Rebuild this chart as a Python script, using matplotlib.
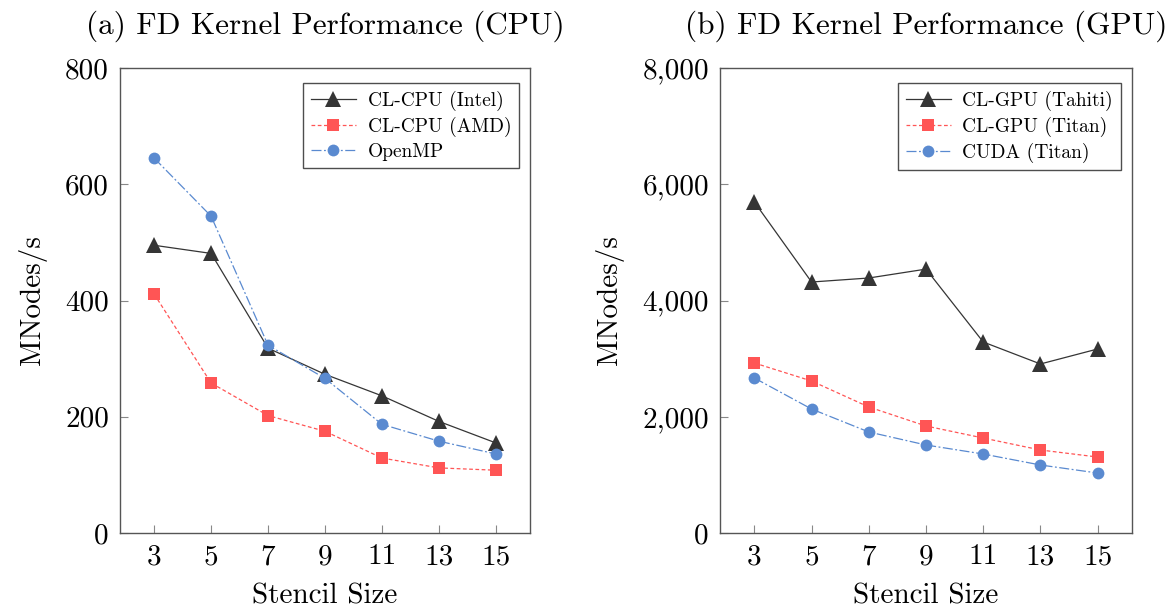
import matplotlib
matplotlib.use("Agg")
import matplotlib.pyplot as plt
from matplotlib.ticker import FuncFormatter

plt.rcParams["font.family"] = "cmr10"
plt.rcParams["mathtext.fontset"] = "cm"
plt.rcParams["axes.unicode_minus"] = False

stencil = [3, 5, 7, 9, 11, 13, 15]

# CPU panel (MNodes/s)
cpu_intel = [495, 481, 318, 273, 236, 192, 155]
cpu_amd = [411, 258, 202, 175, 129, 112, 108]
cpu_openmp = [645, 545, 323, 266, 187, 158, 136]

# GPU panel (MNodes/s)
gpu_tahiti = [5695, 4318, 4387, 4540, 3286, 2908, 3166]
gpu_cl_titan = [2925, 2615, 2168, 1841, 1634, 1428, 1307]
gpu_cuda_titan = [2667, 2133, 1738, 1514, 1359, 1170, 1032]

cpu_labels = ["CL-CPU (Intel)", "CL-CPU (AMD)", "OpenMP"]
gpu_labels = ["CL-GPU (Tahiti)", "CL-GPU (Titan)", "CUDA (Titan)"]

DARK = "#353535"
RED = "#ff5555"
BLUE = "#5a8ad0"
AXCOL = "#555555"


def style_axes(ax, ymax, ystep, title):
    ax.set_xlim(1.8, 16.2)
    ax.set_ylim(0, ymax)
    ax.set_xticks(stencil)
    ax.set_yticks(range(0, ymax + 1, ystep))
    ax.yaxis.set_major_formatter(FuncFormatter(lambda v, p: f"{int(v):,}"))
    ax.tick_params(direction="in", length=6, width=0.8, color="#888888",
                   labelsize=21, pad=8, top=False, right=False)
    for sp in ax.spines.values():
        sp.set_color(AXCOL)
        sp.set_linewidth(1.0)
    ax.set_xlabel("Stencil Size", fontsize=21, labelpad=9)
    ax.set_ylabel("MNodes/s", fontsize=21, labelpad=13)
    ax.set_title(title, fontsize=22.5, pad=25)


def draw(ax, series, labels):
    styles = [
        dict(color=DARK, ls="-", marker="^", ms=11),
        dict(color=RED, ls=(0, (3, 2)), marker="s", ms=8.5),
        dict(color=BLUE, ls=(0, (8, 2, 1.5, 2)), marker="o", ms=8.5),
    ]
    for ys, lab, st in zip(series, labels, styles):
        ax.plot(stencil, ys, color=st["color"], linestyle=st["ls"], linewidth=0.9,
                marker=st["marker"], markersize=st["ms"], markeredgewidth=0,
                label=lab)
    leg = ax.legend(loc="upper right", fontsize=14, frameon=True, fancybox=False,
                    edgecolor="#222222", handlelength=2.3, borderpad=0.4,
                    labelspacing=0.3, handletextpad=0.6, borderaxespad=0,
                    bbox_to_anchor=(0.973, 0.968))
    leg.get_frame().set_linewidth(1.0)


fig = plt.figure(figsize=(11.71, 6.11), dpi=100)
ax1 = fig.add_axes([120 / 1171, 1 - 533 / 611, 410 / 1171, 465 / 611])
ax2 = fig.add_axes([720 / 1171, 1 - 533 / 611, 412 / 1171, 465 / 611])

draw(ax1, [cpu_intel, cpu_amd, cpu_openmp], cpu_labels)
style_axes(ax1, 800, 200, "(a) FD Kernel Performance (CPU)")

draw(ax2, [gpu_tahiti, gpu_cl_titan, gpu_cuda_titan], gpu_labels)
style_axes(ax2, 8000, 2000, "(b) FD Kernel Performance (GPU)")

fig.savefig("out.png", dpi=100)
